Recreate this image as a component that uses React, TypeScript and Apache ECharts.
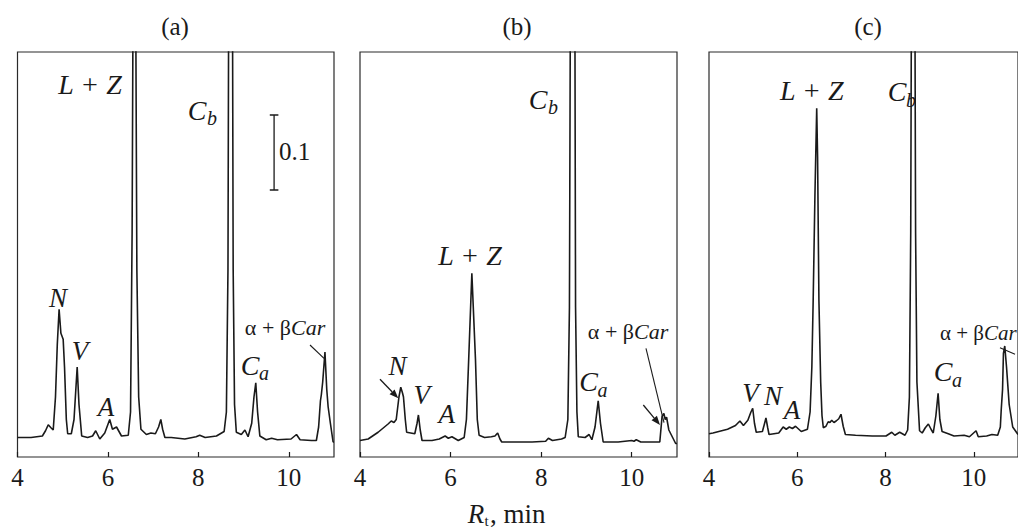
import React, { useEffect, useRef } from "react";
import * as echarts from "echarts";

// ---------- data (retention time in min, absorbance) ----------
const panelTitles = ["(a)", "(b)", "(c)"];
const xMin = 4;
const xMax = 11;
const xInterval = 2;
const yMax = 0.54;
const scaleBarValue = 0.1;
const scaleBarLabel = "0.1";
const xAxisName = ", min";

const traceA: number[][] = [
  [4.0, 0.026], [4.3, 0.026], [4.55, 0.028], [4.62, 0.035], [4.68, 0.043], [4.74, 0.039], [4.79, 0.036],
  [4.84, 0.08], [4.88, 0.15], [4.92, 0.197], [4.96, 0.165], [5.01, 0.157], [5.04, 0.12], [5.08, 0.05],
  [5.11, 0.031], [5.19, 0.031], [5.25, 0.05], [5.32, 0.12], [5.36, 0.07], [5.42, 0.028], [5.55, 0.026],
  [5.66, 0.028], [5.73, 0.035], [5.82, 0.024], [5.93, 0.032], [6.04, 0.05], [6.1, 0.037], [6.19, 0.04],
  [6.3, 0.028], [6.45, 0.029], [6.5, 0.06], [6.535, 0.3], [6.555, 0.6], [6.565, 3], [6.605, 3],
  [6.615, 0.6], [6.64, 0.25], [6.68, 0.08], [6.73, 0.037], [6.85, 0.03], [6.95, 0.032], [7.05, 0.031],
  [7.12, 0.04], [7.17, 0.05], [7.21, 0.037], [7.26, 0.026], [7.4, 0.026], [7.7, 0.024], [7.95, 0.027],
  [8.03, 0.029], [8.15, 0.026], [8.4, 0.028], [8.57, 0.034], [8.62, 0.06], [8.655, 0.25], [8.67, 0.6],
  [8.68, 3], [8.745, 3], [8.755, 0.6], [8.77, 0.25], [8.8, 0.07], [8.84, 0.033], [8.95, 0.03],
  [9.03, 0.036], [9.1, 0.027], [9.18, 0.045], [9.23, 0.08], [9.27, 0.099], [9.31, 0.06], [9.36, 0.028],
  [9.5, 0.023], [9.62, 0.025], [9.75, 0.023], [10.05, 0.024], [10.17, 0.03], [10.25, 0.023],
  [10.5, 0.022], [10.61, 0.022], [10.66, 0.04], [10.7, 0.075], [10.72, 0.083], [10.75, 0.1], [10.8, 0.14],
  [10.84, 0.09], [10.87, 0.067], [10.92, 0.045], [10.98, 0.02], [11.0, 0.02],
];

const traceB: number[][] = [
  [4.0, 0.022], [4.18, 0.024], [4.4, 0.033], [4.62, 0.044], [4.69, 0.048], [4.75, 0.046], [4.8, 0.05],
  [4.86, 0.08], [4.9, 0.093], [4.94, 0.085], [4.96, 0.08], [5.0, 0.05], [5.03, 0.033], [5.21, 0.031],
  [5.26, 0.045], [5.29, 0.056], [5.33, 0.036], [5.37, 0.022], [5.59, 0.022], [5.75, 0.024], [5.88, 0.028],
  [5.95, 0.025], [6.03, 0.027], [6.17, 0.022], [6.3, 0.026], [6.35, 0.05], [6.4, 0.13], [6.47, 0.245],
  [6.55, 0.13], [6.59, 0.05], [6.63, 0.029], [6.75, 0.026], [6.9, 0.027], [6.98, 0.028], [7.04, 0.032],
  [7.09, 0.024], [7.13, 0.02], [7.4, 0.02], [7.8, 0.02], [8.1, 0.021], [8.16, 0.025], [8.25, 0.022],
  [8.45, 0.024], [8.53, 0.026], [8.59, 0.05], [8.625, 0.2], [8.645, 0.6], [8.66, 3], [8.73, 3],
  [8.745, 0.6], [8.76, 0.2], [8.79, 0.06], [8.82, 0.027], [8.97, 0.026], [9.06, 0.03], [9.12, 0.023],
  [9.19, 0.04], [9.26, 0.075], [9.31, 0.045], [9.37, 0.02], [9.7, 0.02], [10.0, 0.022], [10.05, 0.021],
  [10.1, 0.023], [10.2, 0.02], [10.62, 0.02], [10.67, 0.054], [10.71, 0.058], [10.74, 0.05],
  [10.77, 0.053], [10.82, 0.036], [10.87, 0.03], [10.92, 0.024], [10.97, 0.018], [11.0, 0.018],
];

const traceC: number[][] = [
  [4.0, 0.031], [4.09, 0.032], [4.42, 0.037], [4.6, 0.042], [4.7, 0.048], [4.78, 0.042], [4.88, 0.049],
  [4.95, 0.06], [4.99, 0.065], [5.03, 0.045], [5.07, 0.033], [5.21, 0.034], [5.26, 0.045], [5.29, 0.052],
  [5.33, 0.039], [5.36, 0.03], [5.58, 0.032], [5.68, 0.04], [5.75, 0.037], [5.82, 0.04], [5.89, 0.038],
  [5.96, 0.041], [6.09, 0.034], [6.23, 0.037], [6.29, 0.06], [6.33, 0.12], [6.36, 0.209], [6.4, 0.35],
  [6.44, 0.465], [6.46, 0.4], [6.49, 0.209], [6.53, 0.1], [6.56, 0.055], [6.59, 0.039], [6.65, 0.041],
  [6.7, 0.047], [6.74, 0.046], [6.78, 0.049], [6.83, 0.046], [6.88, 0.048], [6.94, 0.051], [6.99, 0.057],
  [7.04, 0.041], [7.09, 0.03], [7.32, 0.029], [7.7, 0.028], [8.01, 0.028], [8.14, 0.033], [8.21, 0.029],
  [8.32, 0.033], [8.44, 0.029], [8.5, 0.036], [8.54, 0.08], [8.57, 0.3], [8.585, 0.6], [8.595, 3],
  [8.655, 3], [8.665, 0.6], [8.68, 0.3], [8.71, 0.1], [8.77, 0.035], [8.83, 0.032], [8.9, 0.039],
  [8.97, 0.044], [9.03, 0.037], [9.08, 0.032], [9.14, 0.055], [9.19, 0.085], [9.23, 0.05], [9.28, 0.034],
  [9.42, 0.031], [9.55, 0.028], [9.78, 0.029], [9.9, 0.027], [10.05, 0.035], [10.1, 0.027], [10.29, 0.028],
  [10.41, 0.03], [10.54, 0.029], [10.6, 0.04], [10.62, 0.063], [10.65, 0.09], [10.67, 0.138],
  [10.7, 0.148], [10.74, 0.12], [10.8, 0.07], [10.88, 0.04], [11.0, 0.03],
];

// scale bar (panel a): x position and top of the 0.1 bar, in data units
const scaleBarX = 9.675;
const scaleBarCapHalf = 0.095;
const scaleBarTop = 0.456;

// ---------- layout ----------
const W = 1018;
const H = 531;
const INK = "#1a1a1a";
const SERIF = "Liberation Serif";

const grids = [
  { left: 17.5, top: 52, width: 316.5, height: 405 },
  { left: 360, top: 52, width: 317, height: 405 },
  { left: 709, top: 52, width: 322, height: 405 },
];

function txt(x: number, y: number, text: string, size: number, italic = false, align = "center") {
  return {
    type: "text",
    x,
    y,
    silent: true,
    z: 10,
    style: {
      text,
      fill: INK,
      fontFamily: SERIF,
      fontSize: size,
      fontStyle: italic ? "italic" : "normal",
      textAlign: align,
      textVerticalAlign: "middle",
      align,
      verticalAlign: "middle",
    },
  };
}

function seg(x1: number, y1: number, x2: number, y2: number, w = 1.1) {
  return {
    type: "line",
    silent: true,
    z: 10,
    shape: { x1, y1, x2, y2 },
    style: { stroke: INK, lineWidth: w },
  };
}

function arrow(x1: number, y1: number, x2: number, y2: number) {
  const dx = x2 - x1;
  const dy = y2 - y1;
  const L = Math.hypot(dx, dy);
  const ux = dx / L;
  const uy = dy / L;
  const hl = 9;
  const hw = 3.5;
  const bx = x2 - ux * hl;
  const by = y2 - uy * hl;
  return [
    seg(x1, y1, bx, by, 1.3),
    {
      type: "polygon",
      silent: true,
      z: 10,
      shape: {
        points: [
          [x2, y2],
          [bx - uy * hw, by + ux * hw],
          [bx + uy * hw, by - ux * hw],
        ],
      },
      style: { fill: INK },
    },
  ];
}

function sub(x: number, y: number, main: string, s: string, size: number, dx: number, dy: number) {
  return [txt(x, y, main, size, true), txt(x + dx, y + dy, s, Math.round(size * 0.72), true)];
}

function carLabel(jx: number, y: number, size = 22) {
  return [txt(jx, y, "α + β", size, false, "right"), txt(jx, y, "Car", size, true, "left")];
}

export default function App() {
  const ref = useRef<HTMLDivElement>(null);

  useEffect(() => {
    if (!ref.current) return;
    const chart = echarts.init(ref.current, null, { renderer: "svg", width: W, height: H });
    const traces = [traceA, traceB, traceC];

    const xAxes = grids.map((_, i) => ({
      type: "value",
      gridIndex: i,
      min: xMin,
      max: xMax,
      interval: xInterval,
      axisLine: { show: false },
      axisTick: { show: true, inside: true, length: 5, lineStyle: { color: INK, width: 1.2 } },
      axisLabel: {
        showMaxLabel: false,
        color: INK,
        fontFamily: SERIF,
        fontSize: 25,
        margin: 8,
      },
      splitLine: { show: false },
    }));
    const yAxes = grids.map((_, i) => ({
      type: "value",
      gridIndex: i,
      min: 0,
      max: yMax,
      show: false,
    }));

    const lineSeries = traces.map((d, i) => ({
      type: "line",
      xAxisIndex: i,
      yAxisIndex: i,
      data: d,
      symbol: "none",
      showSymbol: false,
      clip: true,
      silent: true,
      lineStyle: { color: INK, width: 1.6 },
    }));

    const barBottom = scaleBarTop - scaleBarValue;
    const scaleSeries = [
      [[scaleBarX, scaleBarTop], [scaleBarX, barBottom]],
      [[scaleBarX - scaleBarCapHalf, scaleBarTop], [scaleBarX + scaleBarCapHalf, scaleBarTop]],
      [[scaleBarX - scaleBarCapHalf, barBottom], [scaleBarX + scaleBarCapHalf, barBottom]],
    ].map((d) => ({
      type: "line",
      xAxisIndex: 0,
      yAxisIndex: 0,
      data: d,
      symbol: "none",
      silent: true,
      lineStyle: { color: INK, width: 1.3 },
    }));

    const graphics: any[] = [
      // panel titles
      txt(175, 26, panelTitles[0], 25),
      txt(517, 26, panelTitles[1], 25),
      txt(868, 26, panelTitles[2], 25),
      // panel (a)
      txt(90, 84, "L + Z", 28, true),
      ...sub(197, 110, "C", "b", 28, 15, 8),
      txt(279, 151, scaleBarLabel, 25, false, "left"),
      txt(58, 298, "N", 27, true),
      txt(80, 351, "V", 27, true),
      txt(106, 407, "A", 27, true),
      ...sub(250, 365, "C", "a", 28, 14, 8),
      ...carLabel(291, 327),
      seg(310, 345, 324, 358.3),
      // panel (b)
      ...sub(538, 99, "C", "b", 28, 15, 8),
      txt(470, 255, "L + Z", 28, true),
      txt(397.5, 365.5, "N", 27, true),
      ...arrow(380, 379.3, 398.3, 398.3),
      txt(421.7, 395, "V", 27, true),
      txt(446.7, 414, "A", 27, true),
      ...sub(588.5, 381.7, "C", "a", 28, 14, 8),
      ...carLabel(634, 331),
      seg(646, 348.3, 664, 422.7),
      ...arrow(643.3, 405, 660, 425),
      // panel (c)
      txt(811.7, 90.5, "L + Z", 28, true),
      ...sub(897, 91.7, "C", "b", 28, 14, 8),
      txt(750.5, 392.5, "V", 27, true),
      txt(773, 396, "N", 27, true),
      txt(792, 410, "A", 27, true),
      ...sub(943, 371.7, "C", "a", 28, 14, 8),
      ...carLabel(984, 332.7, 21),
      seg(1000, 347.7, 1015, 354.3),
      // x-axis title
      txt(476, 514, "R", 27, true),
      txt(486.5, 521, "t", 15, false),
      txt(490, 514, xAxisName, 27, false, "left"),
    ];

    chart.setOption({
      animation: false,
      backgroundColor: "#ffffff",
      grid: grids.map((g) => ({ ...g, show: true, borderColor: "#2a2a2a", borderWidth: 1.2, backgroundColor: "transparent" })),
      xAxis: xAxes,
      yAxis: yAxes,
      series: [...lineSeries, ...scaleSeries],
      graphic: graphics,
    });

    return () => chart.dispose();
  }, []);

  return (
    <div
      ref={ref}
      style={{ position: "fixed", left: 0, top: 0, width: W, height: H, background: "#fff" }}
    />
  );
}
